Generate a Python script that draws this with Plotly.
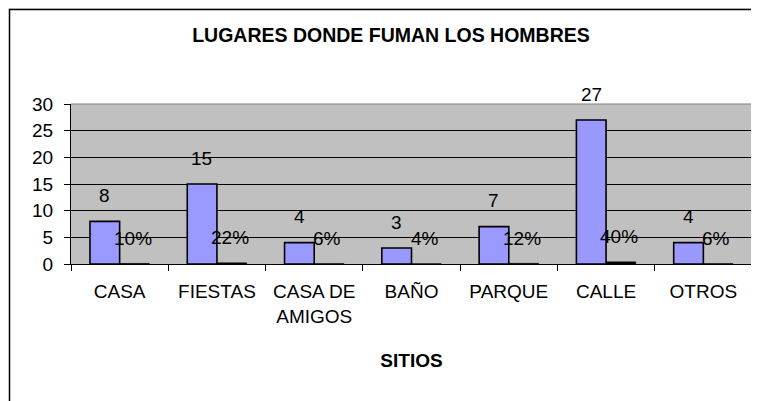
import plotly.graph_objects as go

categories = ["CASA", "FIESTAS", "CASA DE<br>AMIGOS", "BAÑO", "PARQUE", "CALLE", "OTROS"]
counts = [8, 15, 4, 3, 7, 27, 4]
shares = [0.10, 0.22, 0.06, 0.04, 0.12, 0.40, 0.06]
y_ticks = [0, 5, 10, 15, 20, 25, 30]

title_text = "LUGARES DONDE FUMAN LOS HOMBRES"
x_title = "SITIOS"

FONT = "Liberation Sans, Arial, sans-serif"
# the page adds an 8px body margin, so the figure is sized to fit the window
W, H = 751, 393
ML, MR, MT, MB = 63, 7, 96, 137
PW = W - ML - MR
PH = H - MT - MB


def px_x(px):
    return (px - ML) / PW


def px_y(py):
    return (H - MB - py) / PH


fig = go.Figure()
fig.add_trace(go.Bar(
    x=categories, y=counts, name="Cantidad",
    marker=dict(color="#9999FF", line=dict(color="black", width=1.6)),
))
fig.add_trace(go.Bar(
    x=categories, y=shares, name="Porcentaje",
    marker=dict(color="#000000", line=dict(color="black", width=0.6)),
))

annotations = []
for c, v in zip(categories, counts):
    annotations.append(dict(x=c, y=v, xref="x", yref="y", text=str(v), showarrow=False,
                            xshift=-15, yshift=26, font=dict(family=FONT, size=19, color="black")))
for c, v in zip(categories, shares):
    annotations.append(dict(x=c, y=v, xref="x", yref="y", text=f"{v:.0%}", showarrow=False,
                            xshift=13, yshift=25, font=dict(family=FONT, size=19, color="black")))

shapes = [
    # outer chart frame (extends beyond the visible picture)
    dict(type="line", xref="paper", yref="paper", x0=px_x(0), x1=px_x(W + 5),
         y0=px_y(0), y1=px_y(0), line=dict(color="#c8c8c8", width=1), layer="above"),
    dict(type="line", xref="paper", yref="paper", x0=px_x(1), x1=px_x(W + 5),
         y0=px_y(1.5), y1=px_y(1.5), line=dict(color="black", width=1.5), layer="above"),
    dict(type="line", xref="paper", yref="paper", x0=px_x(1.5), x1=px_x(1.5),
         y0=px_y(1), y1=px_y(H + 5), line=dict(color="black", width=1.5), layer="above"),
    # plot area border (top/right)
    dict(type="line", xref="paper", yref="paper", x0=0, x1=1, y0=1, y1=1,
         line=dict(color="#808080", width=1), layer="above"),
    dict(type="line", xref="paper", yref="paper", x0=1, x1=1, y0=0, y1=1,
         line=dict(color="#808080", width=1), layer="above"),
]

fig.update_layout(
    width=W, height=H,
    margin=dict(l=ML, r=MR, t=MT, b=MB),
    paper_bgcolor="white",
    plot_bgcolor="#C0C0C0",
    barmode="group",
    bargap=0.39,
    bargroupgap=0,
    showlegend=False,
    font=dict(family=FONT, size=19, color="black"),
    title=dict(text=f"<b>{title_text}</b>", x=383 / W, xref="container", xanchor="center",
               y=1 - 27 / H, yref="container", yanchor="middle",
               font=dict(family=FONT, size=19.5, color="black")),
    annotations=annotations,
    shapes=shapes,
)
fig.update_xaxes(
    type="category",
    showline=True, linecolor="black", linewidth=1,
    ticks="outside", tickson="boundaries", ticklen=6, tickcolor="black",
    ticklabelstandoff=10,
    tickfont=dict(family=FONT, size=19, color="black"),
    showgrid=False,
    title=dict(text=f"<b>{x_title}</b>", font=dict(family=FONT, size=19, color="black"), standoff=28),
)
fig.update_yaxes(
    range=[0, 30],
    tickvals=y_ticks,
    showline=True, linecolor="black", linewidth=1,
    ticks="outside", ticklen=6, tickcolor="black",
    ticklabelstandoff=7,
    tickfont=dict(family=FONT, size=19, color="black"),
    showgrid=True, gridcolor="black", gridwidth=1,
    zeroline=False,
)
fig.update_traces(cliponaxis=False)

fig.write_html("out.html")
